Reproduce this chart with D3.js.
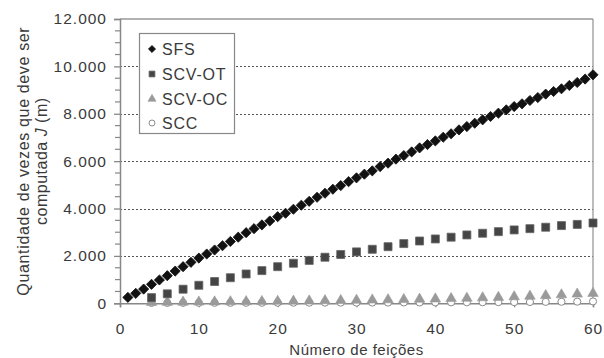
<!DOCTYPE html>
<html>
<head>
<meta charset="utf-8">
<script src="https://cdn.jsdelivr.net/npm/d3@7"></script>
<style>
  html, body { margin: 0; padding: 0; background: #fff; }
  svg { display: block; }
  text { font-family: "Liberation Sans", Arial, sans-serif; fill: #3a3a3a; }
</style>
</head>
<body>
<svg id="chart" width="604" height="358"></svg>
<script>
// ---- data ----
const featuresSFS = [1,2,3,4,5,6,7,8,9,10,11,12,13,14,15,16,17,18,19,20,21,22,23,24,25,26,27,28,29,30,
  31,32,33,34,35,36,37,38,39,40,41,42,43,44,45,46,47,48,49,50,51,52,53,54,55,56,57,58,59,60];
const valuesSFS = [250,420,600,800,985,1165,1360,1545,1730,1910,2080,2250,2430,2610,2790,2980,3150,3310,3475,3655,
  3800,3970,4140,4305,4475,4645,4815,4970,5135,5295,5450,5590,5770,5915,6085,6235,6390,6560,6700,6855,
  7010,7155,7320,7460,7600,7745,7885,8025,8165,8305,8420,8560,8685,8830,8940,9055,9195,9320,9465,9645];
const featuresSCV = [4,6,8,10,12,14,16,18,20,22,24,26,28,30,32,34,36,38,40,42,44,46,48,50,52,54,56,58,60];
const valuesSCVOT = [240,400,595,760,920,1080,1238,1380,1546,1690,1810,1945,2060,2170,2280,2390,2520,2630,2716,2790,
  2885,2957,3025,3097,3150,3211,3280,3330,3390];
const valuesSCVOC = [40,45,50,55,60,65,70,75,85,90,100,110,120,130,140,150,160,175,185,200,215,235,250,275,300,330,360,390,420];
const valuesSCC = [15,15,18,18,20,20,22,22,25,25,28,28,30,30,32,32,35,35,38,40,42,45,48,50,55,60,65,70,80];
const xTicks = [0,10,20,30,40,50,60];
const yTicks = [0,2000,4000,6000,8000,10000,12000];
const yMinorTicks = [500,1000,1500,2500,3000,3500,4500,5000,5500,6500,7000,7500,8500,9000,9500,10500,11000,11500];
const seriesNames = ["SFS","SCV-OT","SCV-OC","SCC"];
const xTitle = "Número de feições";
const yTitle1 = "Quantidade de vezes que deve ser";
const yTitle2a = "computada ";
const yTitle2b = "J";
const yTitle2c = " (m)";

// ---- layout ----
const svg = d3.select("#chart");
const mLeft = 120, mRight = 593, mTop = 19, mBottom = 303.3;
const x = d3.scaleLinear().domain([0, 60]).range([mLeft, mRight]);
const y = d3.scaleLinear().domain([0, 12000]).range([mBottom, mTop]);
const locale = d3.formatLocale({decimal: ",", thousands: ".", grouping: [3], currency: ["R$", ""]});
const fmt = locale.format(",d");

// gridlines (dotted)
svg.append("g").selectAll("line").data(yTicks.filter(d => d > 0 && d < 12000)).join("line")
  .attr("x1", mLeft).attr("x2", mRight)
  .attr("y1", d => Math.round(y(d)) + 0.5).attr("y2", d => Math.round(y(d)) + 0.5)
  .attr("stroke", "#555").attr("stroke-width", 1).attr("stroke-dasharray", "2,2");

// frame top & right
svg.append("line").attr("x1", mLeft).attr("x2", mRight).attr("y1", y(12000)).attr("y2", y(12000))
  .attr("stroke", "#999").attr("stroke-width", 1.3);
svg.append("line").attr("x1", mRight).attr("x2", mRight).attr("y1", y(12000)).attr("y2", y(0))
  .attr("stroke", "#999").attr("stroke-width", 1.3);

// y axis
const yAxis = d3.axisLeft(y).tickValues(yTicks).tickFormat(fmt).tickSize(6).tickPadding(7);
const gy = svg.append("g").attr("transform", `translate(${mLeft},0)`).call(yAxis);
gy.select(".domain").attr("stroke", "#888").attr("stroke-width", 1.5);
gy.selectAll(".tick line").attr("stroke", "#888").attr("stroke-width", 1.3);
gy.selectAll(".tick text").style("font-size", "15.5px").style("letter-spacing", "1px").attr("fill", "#3a3a3a");
svg.append("g").selectAll("line").data(yMinorTicks).join("line")
  .attr("x1", mLeft - 5).attr("x2", mLeft)
  .attr("y1", d => y(d)).attr("y2", d => y(d))
  .attr("stroke", "#888").attr("stroke-width", 1.2);

// x axis
const xAxis = d3.axisBottom(x).tickValues(xTicks).tickFormat(d3.format("d")).tickSize(4).tickPadding(16);
const gx = svg.append("g").attr("transform", `translate(0,${mBottom})`).call(xAxis);
gx.select(".domain").attr("stroke", "#888").attr("stroke-width", 1.5);
gx.selectAll(".tick line").attr("stroke", "#888").attr("stroke-width", 1.3);
gx.selectAll(".tick text").style("font-size", "15.5px").style("letter-spacing", "1px").attr("fill", "#3a3a3a");

// axis titles
svg.append("text").attr("x", (mLeft + mRight) / 2).attr("y", 355).attr("text-anchor", "middle")
  .style("font-size", "15px").style("letter-spacing", "0.5px").text(xTitle);
const ty = svg.append("g").attr("transform", `translate(0,${(mTop + mBottom) / 2}) rotate(-90)`);
ty.append("text").attr("x", 0).attr("y", 29).attr("text-anchor", "middle")
  .style("font-size", "16px").style("letter-spacing", "0.65px").text(yTitle1);
const t2 = ty.append("text").attr("x", 0).attr("y", 47).attr("text-anchor", "middle")
  .style("font-size", "16px").style("letter-spacing", "0.5px");
t2.append("tspan").text(yTitle2a);
t2.append("tspan").style("font-style", "italic").text(yTitle2b);
t2.append("tspan").text(yTitle2c);

// markers
const sym = {
  diamond: d3.symbol().type(d3.symbolDiamond2).size(66),
  square: d3.symbol().type(d3.symbolSquare).size(64),
  triangle: d3.symbol().type(d3.symbolTriangle).size(48),
  circle: d3.symbol().type(d3.symbolCircle).size(40)
};
const styles = [
  {name: seriesNames[0], sym: sym.diamond, fill: "#111", stroke: "#111", sw: 0.8},
  {name: seriesNames[1], sym: sym.square, fill: "#454545", stroke: "#666", sw: 0.8},
  {name: seriesNames[2], sym: sym.triangle, fill: "#9a9a9a", stroke: "#9a9a9a", sw: 0.6},
  {name: seriesNames[3], sym: sym.circle, fill: "#fff", stroke: "#8a8a8a", sw: 1}
];
const seriesData = [
  featuresSFS.map((f, i) => [f, valuesSFS[i]]),
  featuresSCV.map((f, i) => [f, valuesSCVOT[i]]),
  featuresSCV.map((f, i) => [f, valuesSCVOC[i]]),
  featuresSCV.map((f, i) => [f, valuesSCC[i]])
];
[3, 2, 1, 0].forEach(k => {
  const s = styles[k];
  svg.append("g").selectAll("path").data(seriesData[k]).join("path")
    .attr("transform", d => `translate(${x(d[0])},${y(d[1])})`)
    .attr("d", s.sym())
    .attr("fill", s.fill).attr("stroke", s.stroke).attr("stroke-width", s.sw);
});

// legend
const lg = svg.append("g");
lg.append("rect").attr("x", 139.5).attr("y", 33.5).attr("width", 95).attr("height", 100)
  .attr("fill", "#fff").attr("stroke", "#888").attr("stroke-width", 1.2);
const rowsY = [49, 74, 99, 123];
const legendSym = [
  d3.symbol().type(d3.symbolDiamond2).size(32),
  d3.symbol().type(d3.symbolSquare).size(34),
  d3.symbol().type(d3.symbolTriangle).size(28),
  d3.symbol().type(d3.symbolCircle).size(28)
];
styles.forEach((s, i) => {
  lg.append("path").attr("transform", `translate(152,${rowsY[i]})`).attr("d", legendSym[i]())
    .attr("fill", s.fill).attr("stroke", s.stroke).attr("stroke-width", s.sw);
  lg.append("text").attr("x", 162).attr("y", rowsY[i] + 6)
    .style("font-size", "16px").style("letter-spacing", "0.8px").text(s.name);
});
</script>
</body>
</html>
